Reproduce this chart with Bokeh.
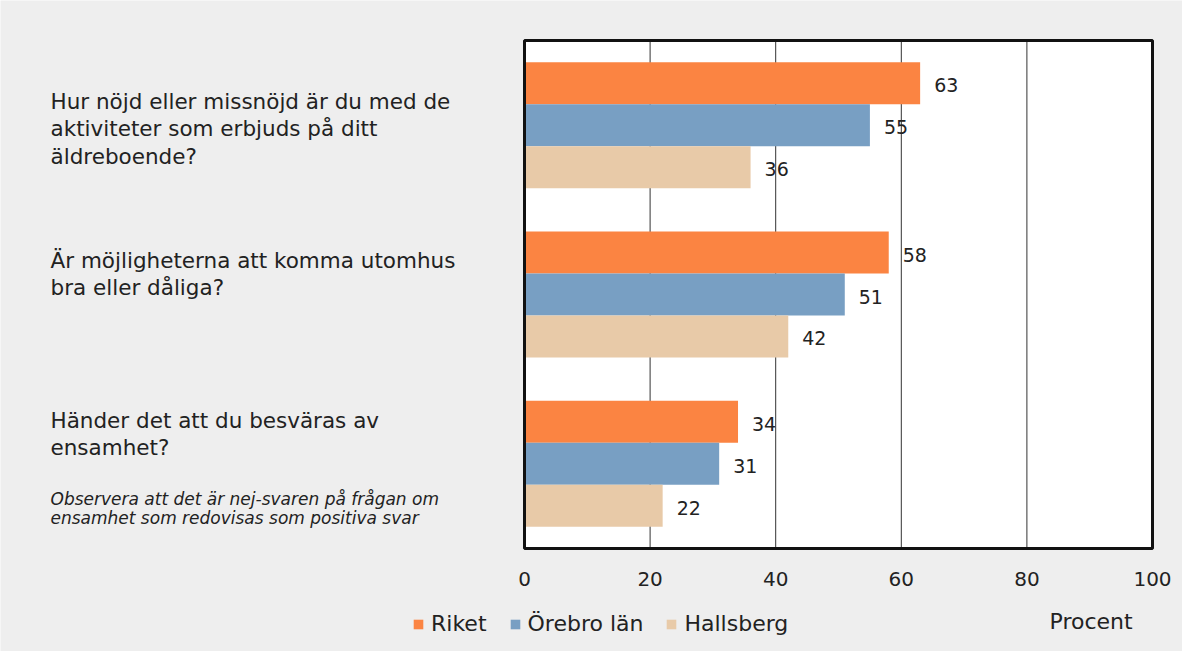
from bokeh.plotting import figure
from bokeh.models import Range1d, Legend, LegendItem, FixedTicker, ColumnDataSource
from bokeh.embed import file_html
from bokeh.resources import INLINE
from bokeh.core.properties import value

# ---- data ----
questions = [
    ["Hur nöjd eller missnöjd är du med de", "aktiviteter som erbjuds på ditt", "äldreboende?"],
    ["Är möjligheterna att komma utomhus", "bra eller dåliga?"],
    ["Händer det att du besväras av", "ensamhet?"],
]
note_lines = ["Observera att det är nej-svaren på frågan om",
              "ensamhet som redovisas som positiva svar"]
series = ["Riket", "Örebro län", "Hallsberg"]
riket = [63, 58, 34]
orebro = [55, 51, 31]
hallsberg = [36, 42, 22]
x_ticks = [0, 20, 40, 60, 80, 100]
x_label = "Procent"

colors = ["#fb8442", "#789fc3", "#e8caa8"]
FONT = "DejaVu Sans"
TXT = "#222222"

W, H = 1182, 651
# chart box in canvas pixels
BOX_L, BOX_R, BOX_T, BOX_B = 524, 1152, 40, 548
sx = (BOX_R - BOX_L) / 100.0
sy = (BOX_B - BOX_T) / 3.0

p = figure(width=W, height=H, output_backend="svg", toolbar_location=None,
           x_range=Range1d(-BOX_L / sx, (W - BOX_L) / sx),
           y_range=Range1d(-(H - BOX_B) / sy, 3 + BOX_T / sy),
           min_border=0)
p.background_fill_color = "#eeeeee"
p.border_fill_color = "#eeeeee"
p.outline_line_color = None
p.yaxis.visible = False
p.xgrid.grid_line_color = None
p.ygrid.grid_line_color = None

def dx(px):
    return (px - BOX_L) / sx
def dy(py):
    return 3 - (py - BOX_T) / sy

# plot box
p.quad(left=[x_ticks[0]], right=[x_ticks[-1]], bottom=[0], top=[3],
       fill_color="white", line_color=None)
p.segment(x0=x_ticks[1:-1], x1=x_ticks[1:-1], y0=[0] * 4, y1=[3] * 4,
          line_color="#333333", line_width=1)

bh = 0.248
n = len(questions)
centers = [n - i - 0.5 for i in range(n)]
renderers = []
for k, (vals, col) in enumerate(zip([riket, orebro, hallsberg], colors)):
    ys = [c + bh * (1 - k) for c in centers]
    src = ColumnDataSource(dict(y=ys, right=vals, lab=[str(v) for v in vals]))
    r = p.hbar(y="y", left=0, right="right", height=bh, source=src,
               fill_color=col, line_color=None)
    renderers.append(r)
    p.text(x="right", y="y", text="lab", source=src, x_offset=14, y_offset=2,
           text_baseline="middle", text_align="left", text_font=value(FONT),
           text_font_size="19px", text_color=TXT)

p.quad(left=[x_ticks[0]], right=[x_ticks[-1]], bottom=[0], top=[3],
       fill_color=None, line_color="#111111", line_width=3)

# x axis fixed at the bottom of the box
p.xaxis.fixed_location = 0
p.xaxis.ticker = FixedTicker(ticks=x_ticks)
p.xaxis.axis_line_color = None
p.xaxis.major_tick_line_color = None
p.xaxis.minor_tick_line_color = None
p.xaxis.major_label_standoff = 17
p.xaxis.major_label_text_font_size = "20px"
p.xaxis.major_label_text_font = FONT
p.xaxis.major_label_text_color = TXT

# question labels
q_first = [101, 260, 420]
line_gap = 27.3
qx, qy, qt = [], [], []
for q, y0 in zip(questions, q_first):
    for j, line in enumerate(q):
        qx.append(dx(50)); qy.append(dy(y0 + j * line_gap)); qt.append(line)
p.text(x=qx, y=qy, text=qt, text_font=value(FONT), text_font_size="21.5px",
       text_color=TXT, text_baseline="middle", text_align="left")
p.text(x=[dx(50)] * 2, y=[dy(498), dy(517)], text=note_lines, text_font=value(FONT),
       text_font_size="17px", text_font_style="italic", text_color=TXT,
       text_baseline="middle", text_align="left")
p.text(x=[dx(1049)], y=[dy(621)], text=[x_label], text_font=value(FONT),
       text_font_size="22px", text_color=TXT, text_baseline="middle", text_align="left")

legend = Legend(items=[LegendItem(label=s, renderers=[r]) for s, r in zip(series, renderers)],
                orientation="horizontal", location=(412, H - 637 + 1),
                background_fill_alpha=0, border_line_color=None,
                label_text_font=FONT, label_text_font_size="22px", label_text_color=TXT,
                glyph_width=12, glyph_height=12, spacing=22, label_standoff=7,
                padding=0, margin=0)
p.add_layout(legend)

open("out.html", "w").write(file_html(p, INLINE))
